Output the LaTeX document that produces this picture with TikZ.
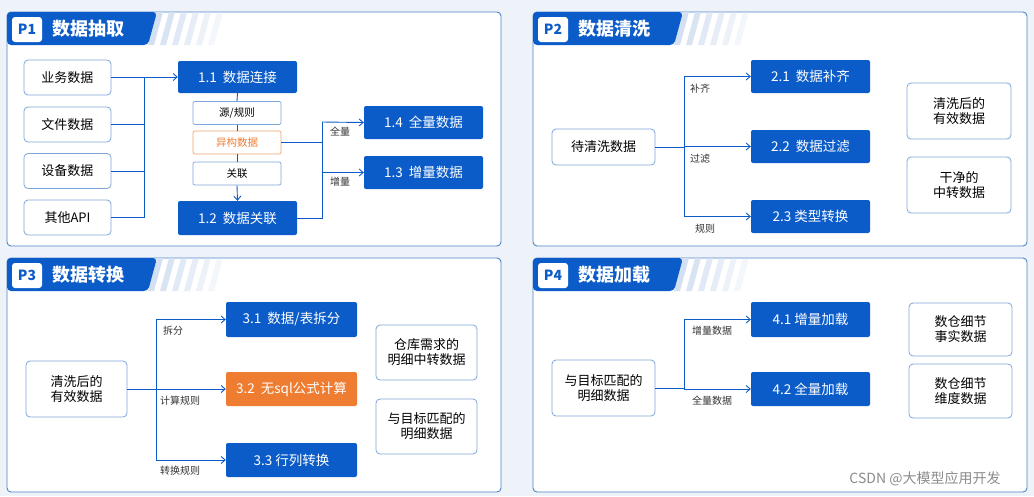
\documentclass[tikz,border=0pt]{standalone}
\usepackage{fontspec}
\setmainfont{Noto Sans CJK SC}
\usetikzlibrary{positioning, arrows.meta}
\definecolor{mainblue}{HTML}{0B5CC9}
\definecolor{paneledge}{HTML}{4F82C6}
\definecolor{boxedge}{HTML}{7EA6DA}
\definecolor{accent}{HTML}{EE7D32}
\definecolor{backdrop}{HTML}{EEF3F9}
\definecolor{stripe}{HTML}{D3E0F2}

\begin{document}
\begin{tikzpicture}[
    x=1pt, y=-1pt,
    panel/.style={draw=paneledge, fill=white, rounded corners=4pt, line width=0.9pt},
    srcbox/.style={draw=boxedge, fill=white, rounded corners=4pt, line width=0.8pt, font=\fontsize{13}{15}\selectfont, align=center, inner sep=0pt},
    stepbox/.style={fill=mainblue, text=white, rounded corners=2pt, font=\fontsize{13.5}{15}\selectfont, inner sep=0pt},
    hotbox/.style={fill=accent, text=white, rounded corners=2pt, font=\fontsize{13.5}{15}\selectfont, inner sep=0pt},
    smallbox/.style={draw=boxedge, fill=white, rounded corners=2pt, line width=0.7pt, font=\fontsize{10.5}{12}\selectfont, inner sep=0pt, minimum width=88pt, minimum height=23pt},
    edgelabel/.style={font=\fontsize{10}{12}\selectfont, text=black!80},
    flow/.style={draw=mainblue, line width=0.9pt, -{Straight Barb[length=4pt,width=7pt]}},
    link/.style={draw=mainblue, line width=0.9pt}
  ]
  \fill[backdrop] (0,0) rectangle (1034,496);

  % Panels with header tabs
  \foreach \px/\py/\tag/\title in {7/12/P1/数据抽取, 533/12/P2/数据清洗, 7/258/P3/数据转换, 533/258/P4/数据加载} {
    \draw[panel] (\px,\py) rectangle ++(494,234);
    \foreach \s in {0,...,5}
      \fill[stripe, opacity=1-0.15*\s] (\px+150+\s*12,\py) -- ++(6,0) -- ++(-9,33) -- ++(-6,0) -- cycle;
    \fill[mainblue, rounded corners=4pt] (\px,\py+33) -- (\px,\py) -- (\px+150,\py) -- (\px+141,\py+33) -- cycle;
    \fill[white, rounded corners=3pt] (\px+5,\py+5) rectangle ++(30,25);
    \node[text=mainblue, font=\fontsize{14}{16}\selectfont\bfseries] at (\px+20,\py+17.5) {\tag};
    \node[text=white, anchor=west, font=\fontsize{18}{20}\selectfont\bfseries] at (\px+42,\py+17) {\title};
  }

  % P1
  \node[srcbox, minimum width=87pt, minimum height=35pt] (biz) at (67.5,77.5) {业务数据};
  \node[srcbox, minimum width=87pt, minimum height=35pt] (file) at (67.5,124.5) {文件数据};
  \node[srcbox, minimum width=87pt, minimum height=35pt] (dev) at (67.5,171) {设备数据};
  \node[srcbox, minimum width=87pt, minimum height=35pt] (api) at (67.5,217.5) {其他API};
  \node[stepbox, minimum width=119pt, minimum height=32pt] (conn) at (237.5,77) {1.1\ \ 数据连接};
  \node[smallbox] (rule) at (237,113) {源/规则};
  \node[smallbox, draw=accent!70, text=accent] (hetero) at (237,142.5) {异构数据};
  \node[smallbox] (rel) at (237,173.5) {关联};
  \node[stepbox, minimum width=119pt, minimum height=34pt] (join) at (237.5,218) {1.2\ \ 数据关联};
  \node[stepbox, minimum width=119pt, minimum height=33pt] (full) at (423.5,122.5) {1.4\ \ 全量数据};
  \node[stepbox, minimum width=119pt, minimum height=33pt] (incr) at (423.5,172.5) {1.3\ \ 增量数据};
  \coordinate (bus1) at (144,77);
  \coordinate (fork1) at (322,122);
  \foreach \n in {biz, file, dev, api}
    \draw[link] (\n.east) -- (bus1 |- \n.east) -- (bus1);
  \draw[flow] (bus1) -- (conn.west);
  \draw[link] (conn.south) -- (rule.north);
  \draw[link] (rule.south) -- (hetero.north);
  \draw[link] (hetero.south) -- (rel.north);
  \draw[flow] (rel.south) -- (join.north);
  \draw[link] (hetero.east) -- (fork1 |- hetero.east);
  \draw[link] (join.east) -- (fork1 |- join.east) -- (fork1);
  \draw[flow] (fork1) -- (full.west);
  \draw[flow] (fork1 |- incr.west) -- (incr.west);
  \node[edgelabel] at (340,132) {全量};
  \node[edgelabel] at (340,182) {增量};

  % P2
  \node[srcbox, minimum width=103pt, minimum height=36pt] (raw) at (603.5,147) {待清洗数据};
  \node[stepbox, minimum width=119pt, minimum height=33pt] (fill) at (810.5,76.5) {2.1\ \ 数据补齐};
  \node[stepbox, minimum width=119pt, minimum height=33pt] (filt) at (810.5,146.5) {2.2\ \ 数据过滤};
  \node[stepbox, minimum width=119pt, minimum height=33pt] (cast) at (810.5,216.5) {2.3 类型转换};
  \node[srcbox, minimum width=104pt, minimum height=56pt] (valid) at (959,111) {清洗后的\\有效数据};
  \node[srcbox, minimum width=104pt, minimum height=56pt] (clean) at (959,185) {干净的\\中转数据};
  \coordinate (bus2) at (684,147);
  \draw[link] (raw.east) -- (bus2);
  \draw[link] (bus2 |- fill.west) -- (bus2 |- cast.west);
  \foreach \n in {fill, filt, cast}
    \draw[flow] (bus2 |- \n.west) -- (\n.west);
  \node[edgelabel] at (700,89) {补齐};
  \node[edgelabel] at (700,159) {过滤};
  \node[edgelabel] at (705,229) {规则};

  % P3
  \node[srcbox, minimum width=101pt, minimum height=56pt] (cleaned) at (76.5,389) {清洗后的\\有效数据};
  \node[stepbox, minimum width=131pt, minimum height=35pt] (split) at (291.5,319.5) {3.1\ \ 数据/表拆分};
  \node[hotbox, minimum width=131pt, minimum height=34pt] (calc) at (291.5,389) {3.2\ \ 无sql公式计算};
  \node[stepbox, minimum width=131pt, minimum height=34pt] (pivot) at (291.5,460) {3.3 行列转换};
  \node[srcbox, minimum width=101pt, minimum height=55pt] (need) at (426.5,352.5) {仓库需求的\\明细中转数据};
  \node[srcbox, minimum width=101pt, minimum height=55pt] (match) at (426.5,426.5) {与目标匹配的\\明细数据};
  \coordinate (bus3) at (156,389);
  \draw[link] (cleaned.east) -- (bus3);
  \draw[link] (bus3 |- split.west) -- (bus3 |- pivot.west);
  \foreach \n in {split, calc, pivot}
    \draw[flow] (bus3 |- \n.west) -- (\n.west);
  \node[edgelabel] at (173,331) {拆分};
  \node[edgelabel] at (180,401) {计算规则};
  \node[edgelabel] at (180,471) {转换规则};

  % P4
  \node[srcbox, minimum width=103pt, minimum height=56pt] (target) at (603.5,388) {与目标匹配的\\明细数据};
  \node[stepbox, minimum width=119pt, minimum height=35pt] (incload) at (810.5,319.5) {4.1 增量加载};
  \node[stepbox, minimum width=119pt, minimum height=34pt] (fullload) at (810.5,389) {4.2 全量加载};
  \node[srcbox, minimum width=103pt, minimum height=53pt] (fact) at (960.5,329.5) {数仓细节\\事实数据};
  \node[srcbox, minimum width=103pt, minimum height=54pt] (dim) at (960.5,391) {数仓细节\\维度数据};
  \coordinate (bus4) at (684,388);
  \draw[link] (target.east) -- (bus4);
  \draw[link] (bus4 |- incload.west) -- (bus4 |- fullload.west);
  \foreach \n in {incload, fullload}
    \draw[flow] (bus4 |- \n.west) -- (\n.west);
  \node[edgelabel] at (712,331) {增量数据};
  \node[edgelabel] at (712,401) {全量数据};

  \node[text=black!45, font=\fontsize{14}{16}\selectfont] at (925,479) {CSDN @大模型应用开发};
\end{tikzpicture}
\end{document}
